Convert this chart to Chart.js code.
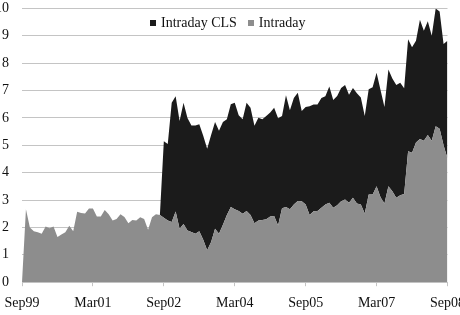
<!DOCTYPE html>
<html>
<head>
<meta charset="utf-8">
<script src="https://cdn.jsdelivr.net/npm/chart.js@4"></script>
<style>
html, body { margin:0; padding:0; overflow:hidden; background:#fff; width:460px; height:315px; }
#wrap { position:absolute; left:-18px; top:-13px; width:492px; height:337px; }
</style>
</head>
<body>
<div id="wrap"><canvas id="c"></canvas></div>
<script>
// Tick labels (every 18 months, monthly data Sep99..Sep08)
const tickLabels = ['Sep99', 'Mar01', 'Sep02', 'Mar04', 'Sep05', 'Mar07', 'Sep08'];

// Intraday (gray, bottom layer) - monthly values
const intraday = [
  0, 2.66, 2.0, 1.86, 1.82, 1.77, 2.03, 1.97, 2.03, 1.65,
  1.74, 1.82, 2.06, 1.86, 2.57, 2.53, 2.51, 2.69, 2.69, 2.40,
  2.40, 2.64, 2.48, 2.25, 2.31, 2.48, 2.38, 2.15, 2.27, 2.25,
  2.37, 2.31, 1.92, 2.37, 2.48, 2.45, 2.35, 2.25, 2.2, 2.58,
  1.95, 2.13, 1.89, 1.83, 1.77, 1.86, 1.55, 1.17, 1.47, 1.95,
  1.77, 2.1, 2.45, 2.75, 2.66, 2.6, 2.5, 2.6, 2.45, 2.15,
  2.25, 2.27, 2.3, 2.4, 2.42, 2.07, 2.7, 2.75, 2.66, 2.84,
  2.97, 2.96, 2.84, 2.45, 2.59, 2.6, 2.72, 2.84, 2.9, 2.72,
  2.81, 2.96, 3.02, 2.9, 3.08, 2.87, 2.84, 2.51, 3.2, 3.2,
  3.5, 3.1, 2.87, 3.5, 3.32, 3.08, 3.18, 3.22, 4.78, 4.73,
  5.1, 5.23, 5.17, 5.38, 5.17, 5.7, 5.6, 5.0, 4.52
];

// Intraday CLS (black, stacked on top)
const intradayCLS = [
  0, 0, 0, 0, 0, 0, 0, 0, 0, 0,
  0, 0, 0, 0, 0, 0, 0, 0, 0, 0,
  0, 0, 0, 0, 0, 0, 0, 0, 0, 0,
  0, 0, 0, 0, 0, 0,
  2.8, 2.8, 4.35, 4.21, 3.94, 4.42, 4.11, 3.89, 3.95, 3.91,
  3.8, 3.7, 3.91, 3.9, 3.76, 3.75, 3.5, 3.75, 3.89, 3.5,
  3.45, 3.95, 3.92, 3.56, 3.76, 3.68, 3.77, 3.8, 3.95, 3.92,
  3.37, 4.08, 3.62, 3.89, 3.95, 3.29, 3.56, 3.98, 3.9, 3.89,
  4.01, 3.95, 4.25, 3.93, 3.99, 4.13, 4.18, 3.95, 4.01, 4.03,
  3.91, 3.56, 3.85, 3.92, 4.15, 3.92, 3.53, 4.27, 4.12, 4.12,
  4.1, 3.86, 4.09, 3.85, 3.72, 4.36, 4.01, 4.15, 3.83, 4.3,
  4.29, 3.7, 4.3
];

const seriesNames = ['Intraday', 'Intraday CLS'];
const seriesColors = ['#8d8d8d', '#1b1b1b'];

Chart.defaults.font.family = "'Liberation Serif', 'Times New Roman', serif";
Chart.defaults.font.size = 14;
Chart.defaults.color = '#111';

const gridColor = '#c4c4c4';

const inAreaLegend = {
  id: 'inAreaLegend',
  afterDraw(chart) {
    const ctx = chart.ctx, a = chart.chartArea;
    const items = chart.data.datasets.slice().reverse();
    ctx.save();
    ctx.font = "14px 'Liberation Serif', serif";
    ctx.textBaseline = 'middle';
    ctx.textAlign = 'left';
    const box = 6, gap = 5, spacing = 11;
    const widths = items.map(d => box + gap + ctx.measureText(d.label).width);
    const total = widths.reduce((s, w) => s + w, 0) + spacing * (items.length - 1);
    let x = (a.left + a.right) / 2 - 7 - total / 2;
    const y = a.top + 14.5;
    items.forEach((d, i) => {
      ctx.fillStyle = d.backgroundColor;
      ctx.fillRect(Math.round(x), Math.round(y - 3), box, box);
      ctx.fillStyle = '#111';
      ctx.fillText(d.label, x + box + gap, y);
      x += widths[i] + spacing;
    });
    ctx.restore();
  }
};

new Chart(document.getElementById('c'), {
  type: 'line',
  data: {
    datasets: [
      {
        label: seriesNames[0],
        data: intraday.map((v, i) => ({ x: i, y: v })),
        backgroundColor: seriesColors[0],
        borderColor: 'rgba(0,0,0,0)',
        borderWidth: 0,
        fill: 'origin',
        pointRadius: 0,
        tension: 0
      },
      {
        label: seriesNames[1],
        data: intradayCLS.map((v, i) => ({ x: i, y: v })),
        backgroundColor: seriesColors[1],
        borderColor: 'rgba(0,0,0,0)',
        borderWidth: 0,
        fill: '-1',
        pointRadius: 0,
        tension: 0
      }
    ]
  },
  options: {
    responsive: true,
    maintainAspectRatio: false,
    animation: false,
    layout: { padding: { top: 0, bottom: 3, left: 0, right: 0 } },
    plugins: { legend: { display: false }, tooltip: { enabled: false } },
    scales: {
      x: {
        type: 'linear',
        min: 0,
        max: 108,
        grid: { drawOnChartArea: false, drawTicks: true, tickLength: 4, tickColor: gridColor },
        border: { display: true, color: gridColor },
        ticks: {
          stepSize: 18,
          autoSkip: false,
          maxRotation: 0,
          padding: 9,
          callback: (v) => tickLabels[v / 18] ?? ''
        }
      },
      y: {
        stacked: true,
        min: 0,
        max: 10,
        ticks: { stepSize: 1, padding: 13 },
        grid: { color: gridColor, drawTicks: false },
        border: { display: false }
      }
    }
  },
  plugins: [inAreaLegend]
});
</script>
</body>
</html>
